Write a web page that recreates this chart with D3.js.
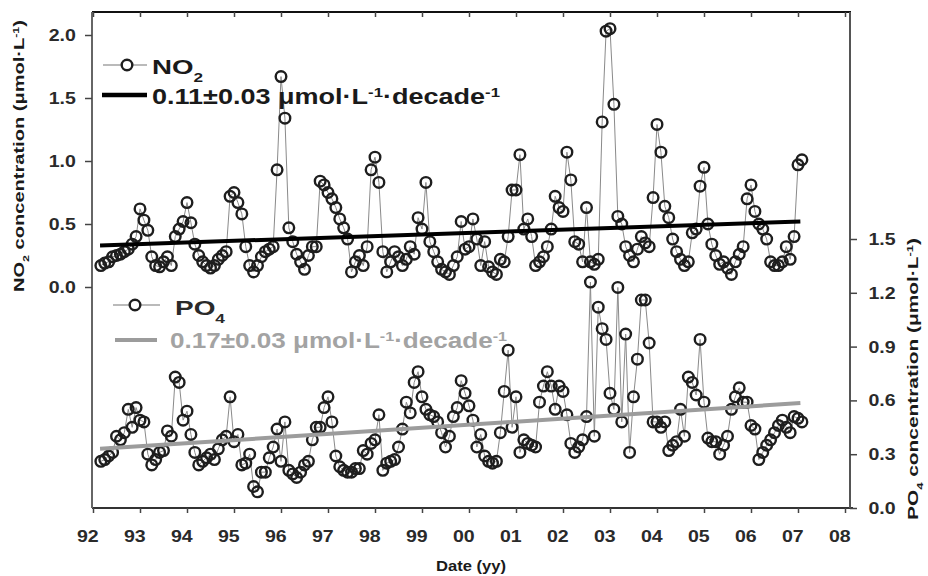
<!DOCTYPE html>
<html>
<head>
<meta charset="utf-8">
<script src="https://cdn.jsdelivr.net/npm/d3@7"></script>
<style>
    body { margin: 0; background: #fff; }
    svg text { font-family: Arial, "Liberation Sans", sans-serif; }
</style>
</head>
<body>
<svg id="grafico"></svg>
<script>
// amostras mensais, a primeira em março de 1992
const anoInicial = 1992;
const mesInicial = 2;

const anos = [1992, 1993, 1994, 1995, 1996, 1997, 1998, 1999, 2000, 2001, 2002, 2003, 2004, 2005, 2006, 2007, 2008];
const rotulosAnos = ['92', '93', '94', '95', '96', '97', '98', '99', '00', '01', '02', '03', '04', '05', '06', '07', '08'];
const ticksNo2 = [0, 0.5, 1.0, 1.5, 2.0];
const ticksPo4 = [0, 0.3, 0.6, 0.9, 1.2, 1.5];

const no2Valores = [
    0.17, 0.19, 0.20, 0.24, 0.25, 0.26, 0.28, 0.30, 0.34, 0.40, 0.62, 0.53,
    0.45, 0.24, 0.17, 0.16, 0.20, 0.24, 0.17, 0.40, 0.46, 0.52, 0.67, 0.51,
    0.34, 0.25, 0.20, 0.17, 0.15, 0.17, 0.22, 0.25, 0.28, 0.72, 0.75, 0.67,
    0.58, 0.32, 0.17, 0.12, 0.17, 0.24, 0.28, 0.30, 0.32, 0.93, 1.67, 1.34,
    0.47, 0.36, 0.26, 0.20, 0.14, 0.25, 0.32, 0.32, 0.84, 0.81, 0.75, 0.70,
    0.63, 0.54, 0.47, 0.38, 0.12, 0.20, 0.25, 0.17, 0.32, 0.93, 1.03, 0.83,
    0.28, 0.12, 0.20, 0.28, 0.24, 0.17, 0.22, 0.32, 0.26, 0.55, 0.46, 0.83,
    0.36, 0.28, 0.20, 0.14, 0.12, 0.10, 0.17, 0.24, 0.52, 0.30, 0.32, 0.54,
    0.38, 0.17, 0.36, 0.16, 0.12, 0.10, 0.22, 0.20, 0.40, 0.77, 0.77, 1.05,
    0.46, 0.54, 0.40, 0.17, 0.20, 0.24, 0.32, 0.46, 0.72, 0.63, 0.60, 1.07,
    0.85, 0.36, 0.34, 0.20, 0.63, 0.20, 0.18, 0.22, 1.31, 2.03, 2.05, 1.45,
    0.56, 0.50, 0.32, 0.25, 0.20, 0.30, 0.40, 0.35, 0.32, 0.71, 1.29, 1.07,
    0.64, 0.55, 0.38, 0.28, 0.22, 0.17, 0.20, 0.43, 0.46, 0.80, 0.95, 0.50,
    0.34, 0.25, 0.18, 0.20, 0.15, 0.10, 0.20, 0.26, 0.32, 0.70, 0.81, 0.60,
    0.50, 0.46, 0.38, 0.20, 0.17, 0.17, 0.20, 0.32, 0.22, 0.40, 0.97, 1.01
];

const po4Valores = [
    0.26, 0.27, 0.29, 0.31, 0.40, 0.38, 0.42, 0.55, 0.45, 0.56, 0.49, 0.48,
    0.30, 0.24, 0.27, 0.31, 0.32, 0.43, 0.40, 0.73, 0.70, 0.49, 0.54, 0.41,
    0.31, 0.24, 0.26, 0.28, 0.30, 0.27, 0.33, 0.38, 0.40, 0.62, 0.37, 0.41,
    0.24, 0.25, 0.30, 0.12, 0.09, 0.20, 0.20, 0.28, 0.34, 0.44, 0.26, 0.48,
    0.21, 0.19, 0.17, 0.20, 0.24, 0.26, 0.38, 0.45, 0.45, 0.56, 0.62, 0.48,
    0.29, 0.23, 0.21, 0.20, 0.20, 0.22, 0.22, 0.32, 0.30, 0.36, 0.38, 0.52,
    0.21, 0.25, 0.26, 0.27, 0.34, 0.44, 0.59, 0.53, 0.70, 0.76, 0.62, 0.55,
    0.52, 0.51, 0.48, 0.42, 0.34, 0.40, 0.51, 0.56, 0.71, 0.64, 0.57, 0.49,
    0.34, 0.41, 0.29, 0.26, 0.25, 0.26, 0.42, 0.65, 0.88, 0.45, 0.62, 0.31,
    0.38, 0.36, 0.35, 0.34, 0.59, 0.68, 0.76, 0.68, 0.55, 0.68, 0.65, 0.52,
    0.36, 0.31, 0.34, 0.38, 0.51, 1.26, 0.40, 1.12, 1.00, 0.94, 0.64, 0.55,
    1.23, 0.48, 0.97, 0.31, 0.62, 0.83, 1.16, 1.16, 0.92, 0.48, 0.48, 0.45,
    0.48, 0.32, 0.35, 0.37, 0.55, 0.40, 0.73, 0.70, 0.63, 0.94, 0.59, 0.39,
    0.37, 0.37, 0.30, 0.35, 0.40, 0.55, 0.62, 0.67, 0.59, 0.59, 0.46, 0.44,
    0.27, 0.31, 0.35, 0.38, 0.42, 0.46, 0.49, 0.45, 0.42, 0.51, 0.50, 0.48
];

// retas de tendência: valor no início e no fim do período
const tendenciaAnos = [1992.15, 2007.05];
const no2Tendencia = [0.33, 0.52];
const po4Tendencia = [0.33, 0.585];

const tituloNo2 = [{ t: 'NO' }, { t: '2', sub: true }, { t: ' concentration (\u03bcmol\u00b7L' }, { t: '-1', sup: true }, { t: ')' }];
const tituloPo4 = [{ t: 'PO' }, { t: '4', sub: true }, { t: ' concentration (\u03bcmol\u00b7L' }, { t: '-1', sup: true }, { t: ')' }];
const legendaNo2 = [{ t: 'NO' }, { t: '2', sub: true }];
const legendaPo4 = [{ t: 'PO' }, { t: '4', sub: true }];
const taxaNo2 = [{ t: '0.11\u00b10.03 \u03bcmol\u00b7L' }, { t: '-1', sup: true }, { t: '\u00b7decade' }, { t: '-1', sup: true }];
const taxaPo4 = [{ t: '0.17\u00b10.03 \u03bcmol\u00b7L' }, { t: '-1', sup: true }, { t: '\u00b7decade' }, { t: '-1', sup: true }];

let largura = 928, altura = 576;
let quadro = { esquerda: 92, direita: 850, superior: 12, inferior: 508 };
let esticar = 'scale(1.15,1)';
let raio = 5.3, tracoPonto = 2.4;

let svg = d3.select('#grafico')
    .attr('width', largura)
    .attr('height', altura);

let fnX = d3.scaleLinear().domain([1992, 2008]).range([93, 845]);
let fnYNo2 = d3.scaleLinear().domain([0, 2]).range([287, 35]);
let fnYPo4 = d3.scaleLinear().domain([0, 1.5]).range([quadro.inferior, 239]);

let serie = (valores) => valores.map((v, i) => ({ t: anoInicial + (mesInicial + i) / 12, v: v }));

function escreverTexto(g, x, y, partes, opcoes) {
    let texto = g.append('text')
        .attr('x', x)
        .attr('y', y)
        .attr('font-size', opcoes.tamanho)
        .attr('font-weight', opcoes.peso || 'bold')
        .attr('fill', opcoes.cor || '#1a1a1a')
        .attr('text-anchor', opcoes.ancora || 'start');
    if (opcoes.transform) texto.attr('transform', opcoes.transform);
    partes.forEach((p) => {
        let ts = texto.append('tspan').text(p.t);
        if (p.sub) ts.attr('baseline-shift', 'sub').attr('font-size', '62%');
        if (p.sup) ts.attr('baseline-shift', 'super').attr('font-size', '62%');
    });
    if (opcoes.comprimento) {
        texto.attr('textLength', opcoes.comprimento).attr('lengthAdjust', 'spacingAndGlyphs');
    }
    return texto;
}

// moldura
let moldura = svg.append('g').attr('stroke-width', 2).attr('fill', 'none');
moldura.append('line').attr('x1', quadro.esquerda).attr('x2', quadro.direita + 1)
    .attr('y1', quadro.superior).attr('y2', quadro.superior).attr('stroke', '#111');
moldura.append('line').attr('x1', quadro.esquerda).attr('x2', quadro.direita + 3)
    .attr('y1', quadro.inferior).attr('y2', quadro.inferior).attr('stroke', '#333');
moldura.append('line').attr('x1', quadro.esquerda).attr('x2', quadro.esquerda)
    .attr('y1', quadro.superior).attr('y2', quadro.inferior).attr('stroke', '#666');
moldura.append('line').attr('x1', quadro.direita).attr('x2', quadro.direita)
    .attr('y1', quadro.superior).attr('y2', quadro.inferior).attr('stroke', '#555');

function estilizarEixo(g) {
    g.select('.domain').remove();
    g.selectAll('.tick line').attr('stroke', '#444').attr('stroke-width', 1.5);
    g.attr('font-size', 17)
        .attr('font-family', 'Arial, "Liberation Sans", sans-serif')
        .attr('font-weight', 'bold');
    g.selectAll('.tick text').attr('fill', '#2a2a2a').attr('transform', esticar);
}

let eixoX = d3.axisBottom(fnX)
    .tickValues(anos)
    .tickSize(5)
    .tickPadding(17)
    .tickFormat((d, i) => rotulosAnos[i]);
svg.append('g')
    .attr('id', 'eixoX')
    .attr('transform', 'translate(0,' + quadro.inferior + ')')
    .call(eixoX)
    .call(estilizarEixo)
    .selectAll('.tick text').attr('dx', -5);

svg.append('g')
    .attr('id', 'eixoTopo')
    .attr('transform', 'translate(0,' + quadro.superior + ')')
    .call(d3.axisTop(fnX).tickValues(anos).tickSize(-5).tickFormat(''))
    .call(estilizarEixo);

svg.append('g')
    .attr('id', 'eixoNo2')
    .attr('transform', 'translate(' + quadro.esquerda + ',0)')
    .call(d3.axisLeft(fnYNo2).tickValues(ticksNo2).tickSize(7).tickPadding(7).tickFormat(d3.format('.1f')))
    .call(estilizarEixo);

svg.append('g')
    .attr('id', 'eixoPo4')
    .attr('transform', 'translate(' + quadro.direita + ',0)')
    .call(d3.axisRight(fnYPo4).tickValues(ticksPo4).tickSize(7).tickPadding(9).tickFormat(d3.format('.1f')))
    .call(estilizarEixo);

// títulos dos eixos
escreverTexto(svg, 0, 0, tituloNo2, { tamanho: 15, ancora: 'middle', comprimento: 272, transform: 'translate(24,156) rotate(-90)' });
escreverTexto(svg, 0, 0, tituloPo4, { tamanho: 15, ancora: 'middle', comprimento: 282, transform: 'translate(918,379) rotate(-90)' });
escreverTexto(svg, 0, 0, [{ t: 'Date (yy)' }], { tamanho: 15, ancora: 'middle', comprimento: 70, transform: 'translate(471,571)' });

function desenharSerie(valores, fnY, id) {
    let dados = serie(valores);
    let g = svg.append('g').attr('id', id);
    let linha = d3.line().x((d) => fnX(d.t)).y((d) => fnY(d.v));
    g.append('path')
        .datum(dados)
        .attr('d', linha)
        .attr('fill', 'none')
        .attr('stroke', '#8a8a8a')
        .attr('stroke-width', 1);
    g.selectAll('.ponto')
        .data(dados)
        .enter()
        .append('circle')
        .classed('ponto', true)
        .attr('cx', (d) => fnX(d.t))
        .attr('cy', (d) => fnY(d.v))
        .attr('r', raio)
        .attr('fill', 'none')
        .attr('stroke', '#1e1e1e')
        .attr('stroke-width', tracoPonto);
}

function desenharTendencia(valores, fnY, cor) {
    let pontos = tendenciaAnos.map((t, i) => ({ t: t, v: valores[i] }));
    svg.append('path')
        .datum(pontos)
        .attr('d', d3.line().x((d) => fnX(d.t)).y((d) => fnY(d.v)))
        .attr('stroke', cor)
        .attr('stroke-width', 4)
        .attr('fill', 'none');
}

desenharSerie(po4Valores, fnYPo4, 'po4');
desenharTendencia(po4Tendencia, fnYPo4, '#9c9c9c');
desenharSerie(no2Valores, fnYNo2, 'no2');
desenharTendencia(no2Tendencia, fnYNo2, '#000');

// legendas
let legenda = svg.append('g').attr('id', 'legenda');
legenda.append('line').attr('x1', 103).attr('x2', 147).attr('y1', 65).attr('y2', 65)
    .attr('stroke', '#777').attr('stroke-width', 1.2);
legenda.append('circle').attr('cx', 127).attr('cy', 65).attr('r', raio)
    .attr('fill', '#fff').attr('stroke', '#1e1e1e').attr('stroke-width', tracoPonto);
escreverTexto(legenda, 152, 74, legendaNo2, { tamanho: 21, comprimento: 51 });
legenda.append('line').attr('x1', 102).attr('x2', 147).attr('y1', 95).attr('y2', 95)
    .attr('stroke', '#000').attr('stroke-width', 4.5);
escreverTexto(legenda, 152, 104, taxaNo2, { tamanho: 22, comprimento: 348 });

legenda.append('line').attr('x1', 113).attr('x2', 160).attr('y1', 305).attr('y2', 305)
    .attr('stroke', '#777').attr('stroke-width', 1.2);
legenda.append('circle').attr('cx', 135).attr('cy', 305).attr('r', raio)
    .attr('fill', '#fff').attr('stroke', '#1e1e1e').attr('stroke-width', tracoPonto);
escreverTexto(legenda, 175, 315, legendaPo4, { tamanho: 21, cor: '#2a2a2a', comprimento: 50 });
legenda.append('line').attr('x1', 115).attr('x2', 157).attr('y1', 340).attr('y2', 340)
    .attr('stroke', '#9c9c9c').attr('stroke-width', 4);
escreverTexto(legenda, 170, 348, taxaPo4, { tamanho: 22, cor: '#a3a3a3', comprimento: 337 });
</script>
</body>
</html>
